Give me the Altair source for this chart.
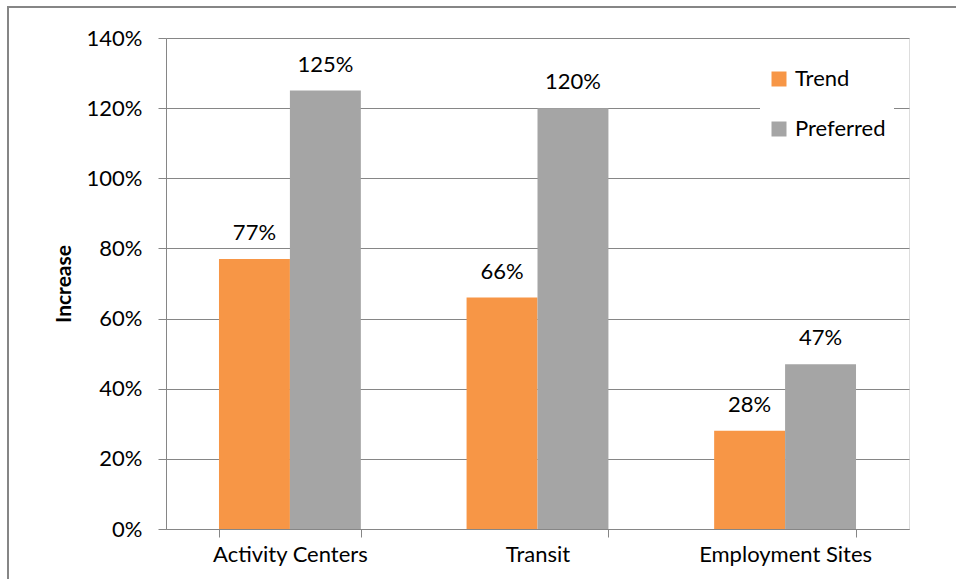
import altair as alt
import pandas as pd

categories = ["Activity Centers", "Transit", "Employment Sites"]
series = ["Trend", "Preferred"]
trend = [0.77, 0.66, 0.28]
preferred = [1.25, 1.20, 0.47]
colors = ["#F79646", "#A5A5A5"]

rows = []
for c, t, p in zip(categories, trend, preferred):
    rows.append({"cat": c, "series": "Trend", "value": t})
    rows.append({"cat": c, "series": "Preferred", "value": p})
df = pd.DataFrame(rows)

FONT = "Lato"
FS = 22
W, H = 743, 491
GRAY = "#868686"

xenc = alt.X("cat:N", sort=categories, title=None,
             scale=alt.Scale(paddingInner=0.427, paddingOuter=0.214),
             axis=alt.Axis(tickBand="extent", labelAngle=0, domainColor=GRAY,
                           tickColor=GRAY, tickSize=8, labelFontSize=FS,
                           labelPadding=7, labelColor="black", grid=False))
yenc = alt.Y("value:Q", title="Increase",
             scale=alt.Scale(domain=[0, 1.4]),
             axis=alt.Axis(format=".0%", values=[0, 0.2, 0.4, 0.6, 0.8, 1.0, 1.2, 1.4],
                           domainColor=GRAY, tickColor=GRAY, tickSize=8,
                           gridColor=GRAY, gridWidth=1, labelFontSize=FS,
                           labelPadding=16, labelColor="black",
                           titleFontSize=21, titleFontWeight="bold",
                           titleColor="black", titlePadding=12))

base = alt.Chart(df)

bars = base.mark_bar().encode(
    x=xenc,
    xOffset=alt.XOffset("series:N", sort=series, scale=alt.Scale(paddingInner=0, paddingOuter=0)),
    y=yenc,
    color=alt.Color("series:N", sort=series,
                    scale=alt.Scale(domain=series, range=colors),
                    legend=alt.Legend(title=None, orient="none", legendX=594, legendY=22,
                                      symbolType="square", symbolSize=225,
                                      symbolStrokeWidth=0, labelFontSize=FS,
                                      labelColor="black", rowPadding=28,
                                      fillColor="white", padding=8,
                                      labelOffset=5)),
)

labels = base.mark_text(fontSize=FS, baseline="alphabetic", dy=-19, color="black", font=FONT).encode(
    x=alt.X("cat:N", sort=categories),
    xOffset=alt.XOffset("series:N", sort=series),
    y="value:Q",
    text=alt.Text("value:Q", format=".0%"),
)

border = base.mark_rect(fill=None, stroke=GRAY, strokeWidth=2).encode(
    x=alt.value(-158), x2=alt.value(W + 80),
    y=alt.value(-31), y2=alt.value(H + 80),
)

chart = alt.layer(bars, labels, border).properties(
    width=W, height=H,
    autosize=alt.AutoSizeParams(type="none"),
    padding={"left": 166, "top": 38, "right": 47, "bottom": 50},
).configure_view(stroke=None).configure(font=FONT)

chart.save("out.html", embed_options={"renderer": "svg", "actions": False})
